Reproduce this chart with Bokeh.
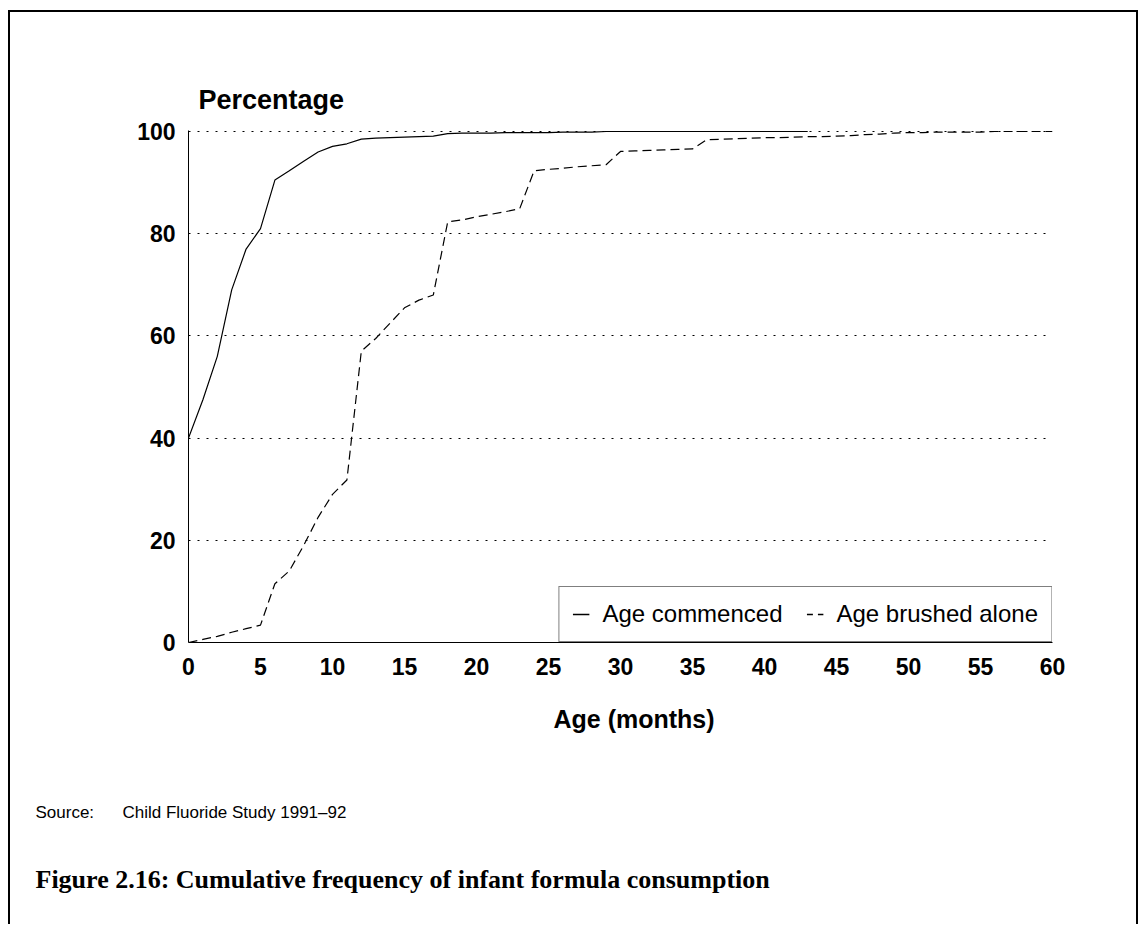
import math
from bokeh.plotting import figure
from bokeh.models import (Legend, LegendItem, FixedTicker, ColumnDataSource,
                          Range1d, Title)
from bokeh.embed import file_html
from bokeh.resources import INLINE

# ---- data ----
months_commenced = list(range(0, 44))
pct_commenced = [40.0, 47.5, 56.0, 69.0, 77.0, 81.0, 90.5, 92.3, 94.2, 96.0,
                 97.1, 97.6, 98.5, 98.7, 98.8, 98.9, 99.0, 99.1, 99.6, 99.7,
                 99.7, 99.7, 99.8, 99.8, 99.8, 99.8, 99.9, 99.9, 99.9, 100.0,
                 100.0, 100.0, 100.0, 100.0, 100.0, 100.0, 100.0, 100.0, 100.0, 100.0,
                 100.0, 100.0, 100.0, 100.0]

months_alone = list(range(0, 61))
pct_alone = [0.0, 0.6, 1.2, 2.0, 2.7, 3.4, 11.5, 14.0, 19.0, 24.5,
             29.0, 31.8, 57.0, 59.5, 62.5, 65.5, 67.0, 68.0, 82.3, 82.7,
             83.3, 83.8, 84.3, 84.9, 92.3, 92.6, 92.8, 93.1, 93.3, 93.5,
             96.1, 96.2, 96.3, 96.4, 96.5, 96.6, 98.4, 98.5, 98.6, 98.7,
             98.8, 98.8, 98.9, 99.0, 99.0, 99.1, 99.2, 99.4, 99.5, 99.7,
             99.8, 99.8, 99.9, 99.9, 99.9, 99.9, 100.0, 100.0, 100.0, 100.0,
             100.0]

x_ticks = [0, 5, 10, 15, 20, 25, 30, 35, 40, 45, 50, 55, 60]
y_ticks = [0, 20, 40, 60, 80, 100]

series_names = ["Age commenced", "Age brushed alone"]
y_axis_title = "Percentage"
x_axis_title = "Age (months)"
source_text = "Source:" + "\u00a0" * 6 + "Child Fluoride Study 1991\u201392"
caption = "Figure 2.16: Cumulative frequency of infant formula consumption"

SANS = "Liberation Sans"
SERIF = "Liberation Serif"

# canvas sits inside a CSS border: left margin 8 + border 2, top margin 10 + border 2
W, H = 1130, 914
p = figure(width=W, height=H, output_backend="svg", toolbar_location=None,
           x_range=Range1d(0, 60), y_range=Range1d(0, 100.2),
           min_border_left=178, min_border_right=88,
           min_border_top=118, min_border_bottom=284)
p.styles = {"margin-left": "8px", "margin-top": "10px",
            "border-left": "2px solid black", "border-top": "2px solid black",
            "border-right": "2px solid black"}
p.outline_line_color = None
p.background_fill_color = "white"
p.border_fill_color = "white"

# axes
for ax in (p.xaxis[0], p.yaxis[0]):
    ax.major_tick_line_color = None
    ax.minor_tick_line_color = None
    ax.major_tick_out = 0
    ax.major_tick_in = 0
    ax.minor_tick_out = 0
    ax.minor_tick_in = 0
    ax.axis_line_color = "black"
    ax.axis_line_width = 1
    ax.major_label_text_font = SANS
    ax.major_label_text_font_style = "bold"
    ax.major_label_text_font_size = "23px"
    ax.major_label_text_color = "black"
p.xaxis.ticker = FixedTicker(ticks=x_ticks)
p.yaxis.ticker = FixedTicker(ticks=y_ticks)
p.xaxis.major_label_standoff = 15
p.yaxis.major_label_standoff = 13

p.xgrid.grid_line_color = None
p.ygrid.grid_line_color = "black"
p.ygrid.grid_line_dash = "2 7"
p.ygrid.grid_line_width = 1

src_c = ColumnDataSource(dict(x=months_commenced, y=pct_commenced))
src_a = ColumnDataSource(dict(x=months_alone, y=pct_alone))
p.line("x", "y", source=src_c, line_color="black", line_width=1.2)
p.line("x", "y", source=src_a, line_color="black", line_width=1.2, line_dash="9 5")

# legend glyph stand-ins (no visible data)
leg_c = p.line(x=[math.nan], y=[math.nan], line_color="black", line_width=1.5)
leg_a = p.line(x=[math.nan], y=[math.nan], line_color="black", line_width=1.5,
               line_dash="6 5")
legend = Legend(items=[LegendItem(label=series_names[0], renderers=[leg_c]),
                       LegendItem(label=series_names[1], renderers=[leg_a])],
                orientation="horizontal", location="bottom_right", margin=0,
                padding=13, spacing=24, glyph_width=17, label_standoff=13,
                label_text_font=SANS, label_text_font_size="24px",
                label_text_color="black", border_line_color="black",
                border_line_width=1, background_fill_color="white",
                background_fill_alpha=1.0)
p.add_layout(legend, "center")

# titles around the frame
p.add_layout(Title(text=y_axis_title, align="left", offset=10, standoff=32,
                   vertical_align="bottom", text_font=SANS, text_font_style="bold",
                   text_font_size="27px", text_color="black"), "above")
p.add_layout(Title(text=x_axis_title, align="left", offset=365, standoff=54,
                   vertical_align="top", text_font=SANS, text_font_style="bold",
                   text_font_size="25px", text_color="black"), "below")
p.add_layout(Title(text=source_text, align="left", offset=-153, standoff=82,
                   vertical_align="top", text_font=SANS, text_font_style="normal",
                   text_font_size="17px", text_color="black"), "below")
p.add_layout(Title(text=caption, align="left", offset=-153, standoff=0,
                   vertical_align="top", text_font=SERIF, text_font_style="bold",
                   text_font_size="26px", text_color="black"), "below")

open("out.html", "w").write(file_html(p, INLINE))
